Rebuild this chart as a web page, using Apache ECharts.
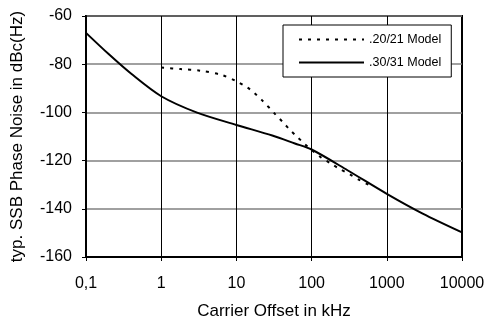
<!DOCTYPE html>
<html>
<head>
<meta charset="utf-8">
<script src="https://cdn.jsdelivr.net/npm/echarts@6/dist/echarts.min.js"></script>
<style>
  html, body { margin: 0; padding: 0; background: #fff; }
  #chart { width: 488px; height: 325px; }
</style>
</head>
<body>
<div id="chart"></div>
<script>
// carrier offset in kHz / phase noise in dBc(Hz)
const freqOld = [1, 1.8, 3.3, 6.3, 10, 13.9, 17.4, 22, 33, 42.5, 52, 64, 81, 100, 135, 178, 237, 322, 431, 569]
const noiseOld = [-81.4, -82, -82.7, -84.4, -87.1, -89.6, -92, -95, -100.8, -104.4, -107.4, -110.1, -113.1, -115.6, -118.8, -121.1, -123.5, -125.7, -128, -130]
const freqNew = [0.1, 0.2, 0.4, 1, 3, 10, 30, 60, 100, 300, 1000, 3000, 10000]
const noiseNew = [-67, -75.8, -84, -93.3, -100.1, -105.2, -109.6, -112.9, -115.4, -124, -133.8, -142, -149.8]
const seriesNames = ['.20/21 Model', '.30/31 Model']
const yTicks = [-160, -140, -120, -100, -80, -60]

const zip = (xs, ys) => xs.map((x, i) => [x, ys[i]])
const font = 'Liberation Sans, Arial, sans-serif'

const chart = echarts.init(document.getElementById('chart'))
chart.setOption({
  animation: false,
  textStyle: { fontFamily: font, color: '#000' },
  grid: {
    left: 86,
    right: 26,
    top: 16,
    bottom: 66,
    show: true,
    borderColor: '#000',
    borderWidth: 2,
  },
  legend: {
    data: seriesNames,
    orient: 'vertical',
    left: 283,
    top: 25,
    padding: [8, 10, 8, 15],
    itemWidth: 65,
    itemHeight: 14,
    itemGap: 10,
    backgroundColor: '#fff',
    borderColor: '#000',
    borderWidth: 1,
    borderRadius: 0,
    selectedMode: false,
    itemStyle: { opacity: 0 },
    textStyle: { fontFamily: font, fontSize: 12.5, color: '#000' },
  },
  xAxis: {
    type: 'log',
    logBase: 10,
    min: 0.1,
    max: 10000,
    name: 'Carrier Offset in kHz',
    nameLocation: 'middle',
    nameGap: 46,
    nameTextStyle: { fontFamily: font, fontSize: 17, color: '#000' },
    axisLine: { lineStyle: { color: '#000', width: 2 } },
    axisTick: { show: true, length: 4, lineStyle: { color: '#000' } },
    axisLabel: {
      fontSize: 16,
      color: '#000',
      margin: 19,
      formatter: v => String(v).replace('.', ','),
    },
    splitLine: { show: true, lineStyle: { color: '#000', width: 1 } },
  },
  yAxis: {
    type: 'value',
    min: yTicks[0],
    max: yTicks[yTicks.length - 1],
    interval: 20,
    name: 'typ. SSB Phase Noise in dBc(Hz)',
    nameLocation: 'middle',
    nameGap: 60,
    nameTextStyle: { fontFamily: font, fontSize: 17, color: '#000' },
    axisLine: { show: true, lineStyle: { color: '#000', width: 2 } },
    axisTick: { show: true, length: 4, lineStyle: { color: '#000' } },
    axisLabel: { fontSize: 16, color: '#000', margin: 14 },
    splitLine: { show: true, lineStyle: { color: '#808080', width: 1.5 } },
  },
  series: [
    {
      name: seriesNames[0],
      type: 'line',
      data: zip(freqOld, noiseOld),
      smooth: 0.3,
      symbol: 'none',
      lineStyle: { color: '#000', width: 2, type: [3, 6] },
      itemStyle: { color: '#000' },
    },
    {
      name: seriesNames[1],
      type: 'line',
      data: zip(freqNew, noiseNew),
      smooth: 0.3,
      symbol: 'none',
      lineStyle: { color: '#000', width: 2 },
      itemStyle: { color: '#000' },
    },
  ],
})
</script>
</body>
</html>
